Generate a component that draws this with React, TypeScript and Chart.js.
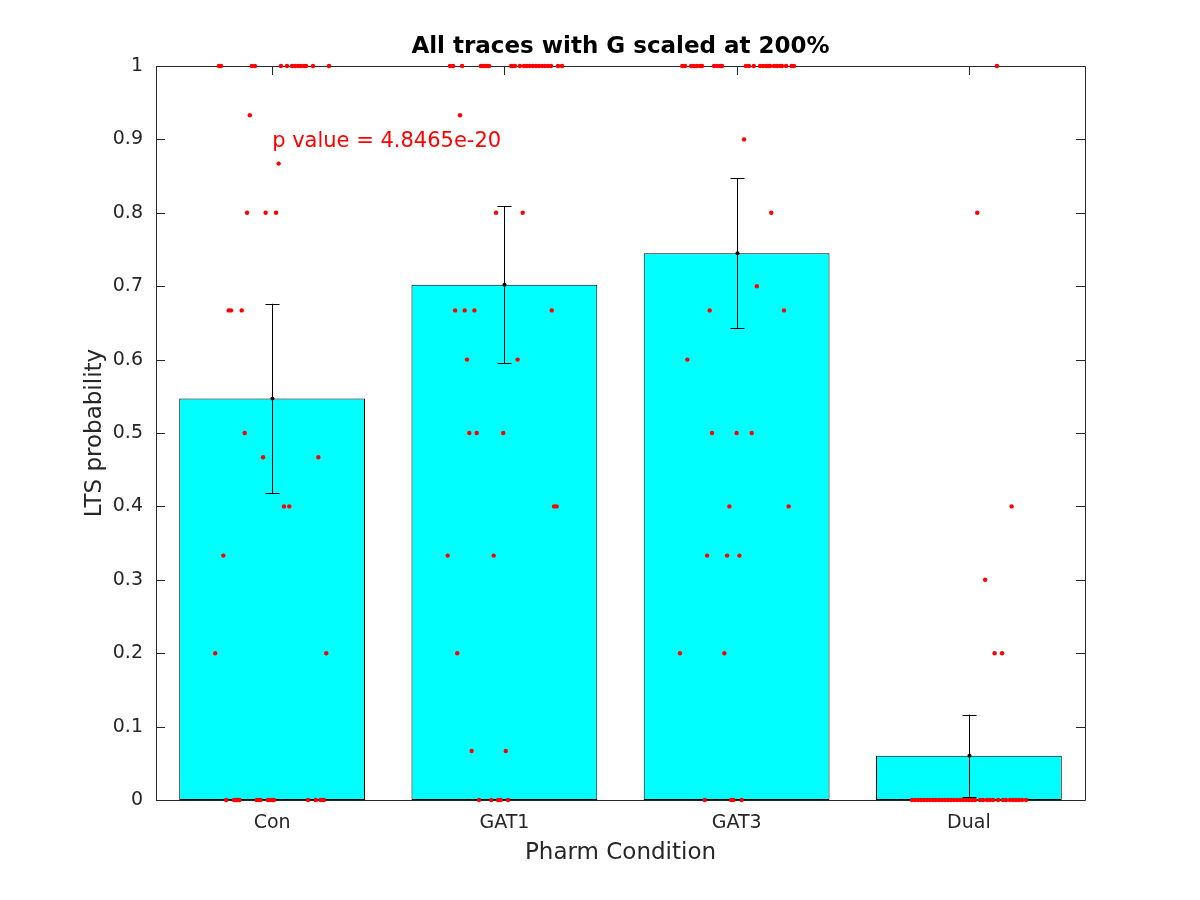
import React, { useEffect, useRef } from "react";
import { Chart, registerables } from "chart.js";

Chart.register(...registerables);

const categories = ["Con", "GAT1", "GAT3", "Dual"];
const means = [0.547, 0.702, 0.745, 0.0604];
const errors = [0.129, 0.107, 0.102, 0.056];
const yTicks = [0, 0.1, 0.2, 0.3, 0.4, 0.5, 0.6, 0.7, 0.8, 0.9, 1];
const titleText = "All traces with G scaled at 200%";
const xLabelText = "Pharm Condition";
const yLabelText = "LTS probability";
const pValueText = "p value = 4.8465e-20";
const pValuePos = [1, 0.9];

// [horizontal jitter in category units, LTS probability]
const conPoints = [
  [-0.229, 1], [-0.22, 1], [-0.087, 1], [-0.074, 1], [0.038, 1], [0.064, 1], [0.086, 1],
  [0.099, 1], [0.112, 1], [0.124, 1], [0.137, 1], [0.146, 1], [0.176, 1], [0.245, 1],
  [-0.096, 0.933], [0.028, 0.867], [-0.108, 0.8], [-0.028, 0.8], [0.017, 0.8],
  [-0.187, 0.667], [-0.177, 0.667], [-0.131, 0.667], [-0.118, 0.5], [-0.039, 0.467],
  [0.199, 0.467], [0.051, 0.4], [0.074, 0.4], [-0.21, 0.333], [-0.245, 0.2], [0.233, 0.2],
  [-0.198, 0], [-0.164, 0], [-0.155, 0], [-0.147, 0], [-0.141, 0], [-0.066, 0], [-0.058, 0],
  [-0.049, 0], [-0.018, 0], [-0.009, 0], [0.0, 0], [0.008, 0], [0.155, 0], [0.188, 0],
  [0.209, 0], [0.218, 0], [0.223, 0],
];
const gat1Points = [
  [-0.234, 1], [-0.221, 1], [-0.182, 1], [-0.101, 1], [-0.092, 1], [-0.083, 1], [-0.075, 1],
  [-0.066, 1], [0.029, 1], [0.037, 1], [0.046, 1], [0.067, 1], [0.084, 1], [0.097, 1],
  [0.11, 1], [0.123, 1], [0.136, 1], [0.149, 1], [0.162, 1], [0.175, 1], [0.188, 1],
  [0.201, 1], [0.231, 1], [0.248, 1], [-0.191, 0.933], [-0.036, 0.8], [0.079, 0.8],
  [-0.212, 0.667], [-0.171, 0.667], [-0.129, 0.667], [0.204, 0.667], [-0.161, 0.6],
  [0.057, 0.6], [-0.151, 0.5], [-0.119, 0.5], [-0.005, 0.5], [0.214, 0.4], [0.225, 0.4],
  [-0.244, 0.333], [-0.046, 0.333], [-0.203, 0.2], [-0.141, 0.0667], [0.006, 0.0667],
  [-0.109, 0], [-0.056, 0], [-0.027, 0], [-0.016, 0], [0.016, 0],
];
const gat3Points = [
  [-0.234, 1], [-0.222, 1], [-0.196, 1], [-0.183, 1], [-0.171, 1], [-0.158, 1], [-0.149, 1],
  [-0.097, 1], [-0.084, 1], [-0.071, 1], [-0.063, 1], [0.04, 1], [0.053, 1], [0.074, 1],
  [0.101, 1], [0.114, 1], [0.127, 1], [0.135, 1], [0.144, 1], [0.161, 1], [0.174, 1],
  [0.187, 1], [0.195, 1], [0.213, 1], [0.237, 1], [0.247, 1], [0.032, 0.9], [0.149, 0.8],
  [0.087, 0.7], [-0.116, 0.667], [0.204, 0.667], [-0.212, 0.6], [-0.106, 0.5], [0.0, 0.5],
  [0.065, 0.5], [-0.031, 0.4], [0.224, 0.4], [-0.127, 0.333], [-0.041, 0.333], [0.012, 0.333],
  [-0.244, 0.2], [-0.053, 0.2], [-0.137, 0], [-0.023, 0], [-0.014, 0], [0.022, 0],
];
const dualPoints = [
  [0.121, 1], [0.036, 0.8], [0.184, 0.4], [0.07, 0.3], [0.111, 0.2], [0.143, 0.2],
  [-0.245, 0], [-0.232, 0], [-0.219, 0], [-0.206, 0], [-0.193, 0], [-0.18, 0], [-0.167, 0],
  [-0.154, 0], [-0.142, 0], [-0.129, 0], [-0.116, 0], [-0.103, 0], [-0.09, 0], [-0.077, 0],
  [-0.064, 0], [-0.051, 0], [-0.038, 0], [-0.025, 0], [-0.012, 0], [0.001, 0], [0.014, 0],
  [0.026, 0], [0.048, 0], [0.061, 0], [0.078, 0], [0.091, 0], [0.104, 0], [0.126, 0],
  [0.147, 0], [0.16, 0], [0.177, 0], [0.19, 0], [0.203, 0], [0.216, 0], [0.229, 0], [0.246, 0],
];
const groupPoints = [conPoints, gat1Points, gat3Points, dualPoints];

const FONT = "'DejaVu Sans', sans-serif";
const AXIS_COLOR = "#262626";

const decorPlugin = {
  id: "decor",
  beforeDatasetsDraw(chart: any) {
    const { ctx, chartArea: a, scales } = chart;
    const ys = scales.y;
    const xs = scales.x;
    ctx.save();
    ctx.strokeStyle = AXIS_COLOR;
    ctx.lineWidth = 1;
    ctx.beginPath();
    ctx.rect(Math.round(a.left) + 0.5, Math.round(a.top) + 0.5, Math.round(a.right - a.left), Math.round(a.bottom - a.top));
    const tl = 9;
    yTicks.forEach((v) => {
      const py = Math.round(ys.getPixelForValue(v)) + 0.5;
      ctx.moveTo(a.left, py);
      ctx.lineTo(a.left + tl, py);
      ctx.moveTo(a.right, py);
      ctx.lineTo(a.right - tl, py);
    });
    categories.forEach((_, i) => {
      const px = Math.round(xs.getPixelForValue(i)) + 0.5;
      ctx.moveTo(px, a.bottom);
      ctx.lineTo(px, a.bottom - tl);
      ctx.moveTo(px, a.top);
      ctx.lineTo(px, a.top + tl);
    });
    ctx.stroke();
    ctx.restore();
  },
  afterDatasetDraw(chart: any, args: any) {
    if (args.index !== 0) return;
    const { ctx, scales } = chart;
    const ys = scales.y;
    const xs = scales.x;
    ctx.save();
    ctx.strokeStyle = "#000";
    ctx.fillStyle = "#000";
    ctx.lineWidth = 1;
    means.forEach((m, i) => {
      const px = Math.round(xs.getPixelForValue(i)) + 0.5;
      const top = ys.getPixelForValue(m + errors[i]);
      const bot = ys.getPixelForValue(m - errors[i]);
      ctx.beginPath();
      ctx.moveTo(px, top);
      ctx.lineTo(px, bot);
      ctx.moveTo(px - 7, Math.round(top) + 0.5);
      ctx.lineTo(px + 7, Math.round(top) + 0.5);
      ctx.moveTo(px - 7, Math.round(bot) + 0.5);
      ctx.lineTo(px + 7, Math.round(bot) + 0.5);
      ctx.stroke();
      ctx.beginPath();
      ctx.arc(px, ys.getPixelForValue(m), 2, 0, Math.PI * 2);
      ctx.fill();
    });
    ctx.restore();
  },
  afterDraw(chart: any) {
    const { ctx, chartArea: a, scales } = chart;
    const cx = (a.left + a.right) / 2;
    const cy = (a.top + a.bottom) / 2;
    ctx.save();
    ctx.textAlign = "center";
    ctx.textBaseline = "middle";
    ctx.fillStyle = "#000";
    ctx.font = `bold 23px ${FONT}`;
    ctx.fillText(titleText, cx, 47);
    ctx.fillStyle = AXIS_COLOR;
    ctx.font = `23px ${FONT}`;
    ctx.fillText(xLabelText, cx, 853);
    ctx.save();
    ctx.translate(95, cy);
    ctx.rotate(-Math.PI / 2);
    ctx.fillText(yLabelText, 0, 0);
    ctx.restore();
    ctx.fillStyle = "#ff0000";
    ctx.font = `21px ${FONT}`;
    ctx.textAlign = "left";
    ctx.fillText(pValueText, scales.x2.getPixelForValue(pValuePos[0]), scales.y.getPixelForValue(pValuePos[1]) + 2);
    ctx.restore();
  },
};

export default function App() {
  const ref = useRef<HTMLCanvasElement>(null);
  useEffect(() => {
    if (!ref.current) return;
    const scatterSets = groupPoints.map((pts, gi) => ({
      type: "scatter" as const,
      xAxisID: "x2",
      yAxisID: "y",
      order: 0,
      clip: false as any,
      data: pts.map(([dx, v]) => ({ x: gi + 1 + dx, y: v })),
      pointRadius: 2.2,
      pointBackgroundColor: "#ff0000",
      pointBorderWidth: 0,
      pointBorderColor: "#ff0000",
      pointHoverRadius: 2.2,
    }));
    const chart = new Chart(ref.current, {
      type: "bar",
      data: {
        labels: categories,
        datasets: [
          {
            type: "bar",
            xAxisID: "x",
            yAxisID: "y",
            order: 10,
            grouped: false,
            data: means,
            backgroundColor: "#00ffff",
            borderColor: "#000000",
            borderWidth: 1,
            borderSkipped: false,
            barPercentage: 0.8,
            categoryPercentage: 1,
          } as any,
          ...(scatterSets as any[]),
        ],
      },
      options: {
        responsive: false,
        animation: false,
        events: [],
        layout: { padding: { top: 66, right: 115, bottom: 0, left: 0 } },
        plugins: {
          legend: { display: false },
          tooltip: { enabled: false },
          title: { display: false },
        },
        scales: {
          x: {
            type: "category",
            position: "bottom",
            offset: true,
            grid: { display: false, drawTicks: false },
            border: { display: false },
            ticks: { color: AXIS_COLOR, font: { family: FONT, size: 19 }, padding: 12, maxRotation: 0 },
            afterFit: (s: any) => { s.height = 100; },
          },
          x2: {
            type: "linear",
            position: "bottom",
            min: 0.5,
            max: 4.5,
            offset: false,
            display: true,
            grid: { display: false, drawTicks: false, offset: false },
            border: { display: false },
            ticks: { display: false },
            afterFit: (s: any) => { s.height = 0; },
          },
          y: {
            type: "linear",
            min: 0,
            max: 1,
            grid: { display: false, drawTicks: false },
            border: { display: false },
            ticks: {
              stepSize: 0.1,
              color: AXIS_COLOR,
              font: { family: FONT, size: 19 },
              padding: 13,
              callback: (v: any) => String(Math.round(Number(v) * 10) / 10),
            },
            afterFit: (s: any) => { s.width = 156; },
          },
        },
      } as any,
      plugins: [decorPlugin],
    });
    return () => chart.destroy();
  }, []);
  return (
    <div style={{ position: "fixed", left: 0, top: 0, width: 1200, height: 900, background: "#fff" }}>
      <canvas ref={ref} width={1200} height={900} />
    </div>
  );
}
